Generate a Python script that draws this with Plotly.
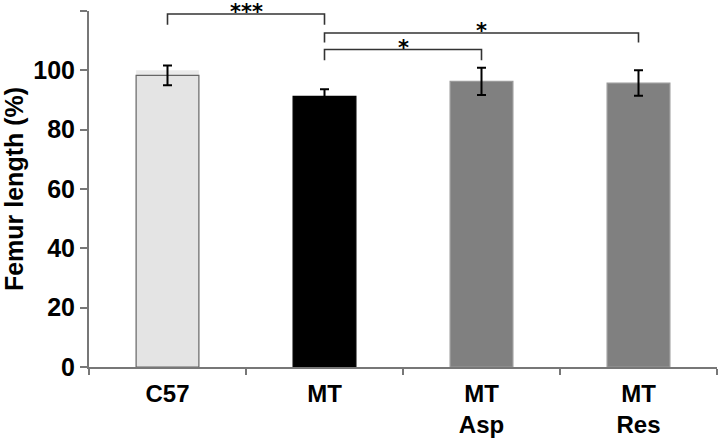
import plotly.graph_objects as go

categories = ["C57", "MT", "MT<br>Asp", "MT<br>Res"]
values = [98.3, 91.2, 96.3, 95.7]
errors = [3.3, 2.4, 4.6, 4.3]
bar_colors = ["#e4e4e4", "#000000", "#808080", "#808080"]
line_colors = ["#666666", "#000000", "#9a9a9a", "#9a9a9a"]
reference_level = [100, None, None, None]

# significance brackets: (start index, end index, bar height, drop height, label)
brackets = [
    (0, 1, 119.0, 115.4, "***"),
    (1, 3, 112.6, 109.4, "*"),
    (1, 2, 107.0, 103.4, "*"),
]

y_ticks = [0, 20, 40, 60, 80, 100, 120]
y_ticktext = ["0", "20", "40", "60", "80", "100", ""]

FONT = "Liberation Sans"

fig = go.Figure()
fig.add_trace(go.Bar(
    x=categories, y=reference_level, width=0.4,
    marker=dict(color="#ebebeb", line=dict(width=0)),
    hoverinfo="skip", showlegend=False,
))
fig.add_trace(go.Bar(
    x=categories, y=values, width=0.4,
    marker=dict(color=bar_colors, line=dict(color=line_colors, width=1.2)),
    error_y=dict(type="data", array=errors, color="#000000", thickness=2, width=4.5),
    showlegend=False,
))

shapes = []
annotations = []
for i0, i1, top, drop, label in brackets:
    shapes.append(dict(
        type="path", xref="x", yref="y",
        path=f"M {i0} {drop} L {i0} {top} L {i1} {top} L {i1} {drop}",
        line=dict(color="#333333", width=1.6),
    ))
    annotations.append(dict(
        x=(i0 + i1) / 2, y=top, xref="x", yref="y", text=label,
        showarrow=False, yanchor="middle", yshift=2,
        font=dict(family="DejaVu Sans", size=21, color="#000000", weight="bold"),
    ))

fig.update_layout(
    width=720, height=441,
    margin=dict(l=89, r=3, t=11, b=71),
    paper_bgcolor="white", plot_bgcolor="white",
    barmode="overlay",
    shapes=shapes, annotations=annotations,
    font=dict(family=FONT, color="#000000"),
    xaxis=dict(
        type="category", tickson="boundaries", ticks="outside", ticklen=6,
        tickwidth=2, tickcolor="#777777", showline=True, linecolor="#777777",
        linewidth=2, showgrid=False, range=[-0.5, 3.5], ticklabelstandoff=4,
        tickfont=dict(family=FONT, size=24, color="#000000", weight="bold"),
    ),
    yaxis=dict(
        range=[0, 120], tickvals=y_ticks, ticktext=y_ticktext,
        ticks="outside", ticklen=7, tickwidth=2, tickcolor="#777777",
        showline=True, linecolor="#777777", linewidth=2, showgrid=False,
        zeroline=False,
        tickfont=dict(family=FONT, size=25, color="#000000", weight="bold"),
        title=dict(text="Femur length (%)", standoff=10,
                   font=dict(family=FONT, size=25, color="#000000", weight="bold")),
    ),
)

fig.write_html("out.html", config={"displayModeBar": False},
               post_script="document.body.style.margin='0';")
